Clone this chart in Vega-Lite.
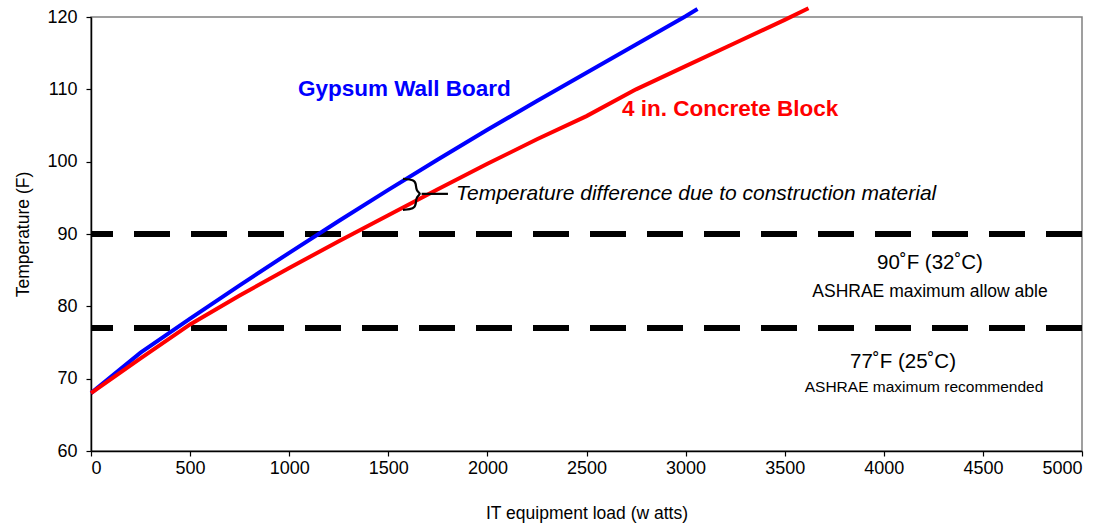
{
  "$schema": "https://vega.github.io/schema/vega-lite/v6.json",
  "width": 991,
  "height": 434,
  "autosize": "none",
  "padding": {"left": 91, "top": 17, "right": 35, "bottom": 73},
  "background": "white",
  "config": {
    "font": "Liberation Sans",
    "view": {"stroke": "#808080", "strokeWidth": 1.5},
    "axis": {"grid": false, "domainColor": "#000000", "tickColor": "#000000", "labelColor": "#000000", "titleColor": "#000000", "labelFont": "Liberation Sans", "titleFont": "Liberation Sans", "labelFontSize": 18, "titleFontSize": 17.5, "titleFontWeight": "normal", "tickSize": 5, "domainWidth": 1.5, "tickWidth": 1.2}
  },
  "datasets": {
    "series": [
      {"load": 0, "temp": 68, "material": "Gypsum Wall Board"},
      {"load": 250, "temp": 73.6, "material": "Gypsum Wall Board"},
      {"load": 500, "temp": 78.3, "material": "Gypsum Wall Board"},
      {"load": 750, "temp": 82.9, "material": "Gypsum Wall Board"},
      {"load": 1000, "temp": 87.4, "material": "Gypsum Wall Board"},
      {"load": 1250, "temp": 91.8, "material": "Gypsum Wall Board"},
      {"load": 1500, "temp": 96.1, "material": "Gypsum Wall Board"},
      {"load": 1750, "temp": 100.3, "material": "Gypsum Wall Board"},
      {"load": 2000, "temp": 104.4, "material": "Gypsum Wall Board"},
      {"load": 2250, "temp": 108.4, "material": "Gypsum Wall Board"},
      {"load": 2500, "temp": 112.3, "material": "Gypsum Wall Board"},
      {"load": 2750, "temp": 116.2, "material": "Gypsum Wall Board"},
      {"load": 3000, "temp": 120.1, "material": "Gypsum Wall Board"},
      {"load": 3060, "temp": 121.1, "material": "Gypsum Wall Board"},
      {"load": 0, "temp": 68, "material": "4 in. Concrete Block"},
      {"load": 250, "temp": 72.8, "material": "4 in. Concrete Block"},
      {"load": 500, "temp": 77.5, "material": "4 in. Concrete Block"},
      {"load": 750, "temp": 81.5, "material": "4 in. Concrete Block"},
      {"load": 1000, "temp": 85.3, "material": "4 in. Concrete Block"},
      {"load": 1250, "temp": 89.0, "material": "4 in. Concrete Block"},
      {"load": 1500, "temp": 92.6, "material": "4 in. Concrete Block"},
      {"load": 1750, "temp": 96.2, "material": "4 in. Concrete Block"},
      {"load": 2000, "temp": 99.7, "material": "4 in. Concrete Block"},
      {"load": 2250, "temp": 103.1, "material": "4 in. Concrete Block"},
      {"load": 2500, "temp": 106.3, "material": "4 in. Concrete Block"},
      {"load": 2750, "temp": 110.0, "material": "4 in. Concrete Block"},
      {"load": 3000, "temp": 113.2, "material": "4 in. Concrete Block"},
      {"load": 3250, "temp": 116.4, "material": "4 in. Concrete Block"},
      {"load": 3500, "temp": 119.6, "material": "4 in. Concrete Block"},
      {"load": 3620, "temp": 121.2, "material": "4 in. Concrete Block"}
    ],
    "limits": [
      {"temp": 90},
      {"temp": 77}
    ],
    "labels": [
      {"load": 1044, "temp": 110.1, "text": "Gypsum Wall Board", "material": "Gypsum Wall Board"},
      {"load": 2679, "temp": 107.3, "text": "4 in. Concrete Block", "material": "4 in. Concrete Block"}
    ],
    "limitHead": [
      {"load": 4233, "temp": 86.0, "text": "90˚F (32˚C)"},
      {"load": 4097, "temp": 72.3, "text": "77˚F (25˚C)"}
    ],
    "limitAllow": [
      {"load": 4233, "temp": 82.0, "text": "ASHRAE maximum allow able"}
    ],
    "limitRec": [
      {"load": 4203, "temp": 68.8, "text": "ASHRAE maximum recommended"}
    ],
    "note": [
      {"load": 1842, "temp": 95.55, "text": "Temperature difference due to construction material"}
    ],
    "brace": [
      {"step": 1, "load": 1574, "temp": 97.63},
      {"step": 2, "load": 1630, "temp": 97.49},
      {"step": 3, "load": 1640, "temp": 96.94},
      {"step": 4, "load": 1640, "temp": 95.96},
      {"step": 5, "load": 1668, "temp": 95.55},
      {"step": 6, "load": 1640, "temp": 95.13},
      {"step": 7, "load": 1640, "temp": 94.16},
      {"step": 8, "load": 1630, "temp": 93.47},
      {"step": 9, "load": 1574, "temp": 93.33}
    ],
    "braceTick": [
      {"load": 1668, "load2": 1801, "temp": 95.55}
    ]
  },
  "layer": [
    {
      "data": {"name": "limits"},
      "mark": {"type": "rule", "color": "#000000", "strokeWidth": 6, "strokeDash": [36, 21]},
      "encoding": {
        "y": {"field": "temp", "type": "quantitative", "scale": {"domain": [60, 120], "nice": false}}
      }
    },
    {
      "data": {"name": "series"},
      "mark": {"type": "line", "strokeWidth": 4, "clip": false},
      "encoding": {
        "x": {"field": "load", "type": "quantitative", "title": "IT equipment load (w atts)", "scale": {"domain": [0, 5000], "nice": false}, "axis": {"values": [0, 500, 1000, 1500, 2000, 2500, 3000, 3500, 4000, 4500, 5000], "format": "d", "labelPadding": 3, "titlePadding": 27}},
        "y": {"field": "temp", "type": "quantitative", "title": "Temperature (F)", "scale": {"domain": [60, 120], "nice": false}, "axis": {"values": [60, 70, 80, 90, 100, 110, 120], "format": "d", "labelPadding": 9, "titlePadding": 14}},
        "color": {"field": "material", "type": "nominal", "scale": {"domain": ["Gypsum Wall Board", "4 in. Concrete Block"], "range": ["#0000FF", "#FF0000"]}, "legend": null},
        "order": {"field": "load", "type": "quantitative"}
      }
    },
    {
      "data": {"name": "labels"},
      "mark": {"type": "text", "align": "left", "baseline": "middle", "fontSize": 22.5, "fontWeight": "bold", "font": "Liberation Sans"},
      "encoding": {
        "x": {"field": "load", "type": "quantitative"},
        "y": {"field": "temp", "type": "quantitative"},
        "text": {"field": "text"},
        "color": {"field": "material", "type": "nominal", "scale": {"domain": ["Gypsum Wall Board", "4 in. Concrete Block"], "range": ["#0000FF", "#FF0000"]}, "legend": null}
      }
    },
    {
      "data": {"name": "limitHead"},
      "mark": {"type": "text", "align": "center", "baseline": "middle", "color": "#000000", "font": "Liberation Sans", "fontSize": 20.5},
      "encoding": {
        "x": {"field": "load", "type": "quantitative"},
        "y": {"field": "temp", "type": "quantitative"},
        "text": {"field": "text"}
      }
    },
    {
      "data": {"name": "limitAllow"},
      "mark": {"type": "text", "align": "center", "baseline": "middle", "color": "#000000", "font": "Liberation Sans", "fontSize": 17.5},
      "encoding": {
        "x": {"field": "load", "type": "quantitative"},
        "y": {"field": "temp", "type": "quantitative"},
        "text": {"field": "text"}
      }
    },
    {
      "data": {"name": "limitRec"},
      "mark": {"type": "text", "align": "center", "baseline": "middle", "color": "#000000", "font": "Liberation Sans", "fontSize": 15.5},
      "encoding": {
        "x": {"field": "load", "type": "quantitative"},
        "y": {"field": "temp", "type": "quantitative"},
        "text": {"field": "text"}
      }
    },
    {
      "data": {"name": "note"},
      "mark": {"type": "text", "align": "left", "baseline": "middle", "fontSize": 21, "fontStyle": "italic", "color": "#000000", "font": "Liberation Sans"},
      "encoding": {
        "x": {"field": "load", "type": "quantitative"},
        "y": {"field": "temp", "type": "quantitative"},
        "text": {"field": "text"}
      }
    },
    {
      "data": {"name": "brace"},
      "mark": {"type": "line", "color": "#000000", "strokeWidth": 2.2, "interpolate": "basis"},
      "encoding": {
        "x": {"field": "load", "type": "quantitative"},
        "y": {"field": "temp", "type": "quantitative"},
        "order": {"field": "step", "type": "quantitative"}
      }
    },
    {
      "data": {"name": "braceTick"},
      "mark": {"type": "rule", "color": "#000000", "strokeWidth": 2.2},
      "encoding": {
        "x": {"field": "load", "type": "quantitative"},
        "x2": {"field": "load2"},
        "y": {"field": "temp", "type": "quantitative"}
      }
    }
  ]
}
